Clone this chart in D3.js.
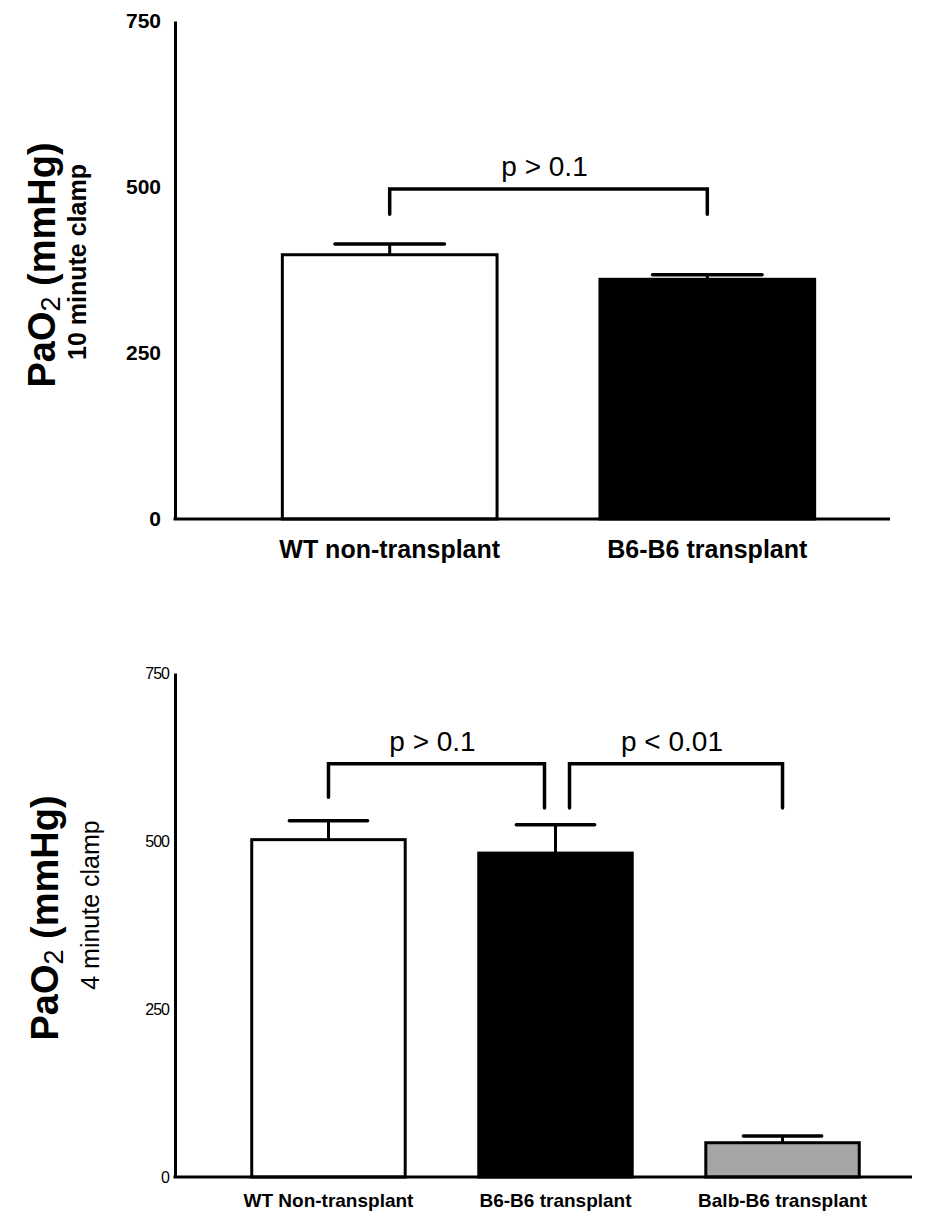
<!DOCTYPE html>
<html>
<head>
<meta charset="utf-8">
<script src="https://cdn.jsdelivr.net/npm/d3@7"></script>
<style>
  body { margin: 0; background: #fff; }
  svg text { font-family: "Liberation Sans", Arial, sans-serif; fill: #000; }
</style>
</head>
<body>
<svg id="chart" width="925" height="1219"></svg>
<script>
// top panel: 10 minute clamp
var topCats = ["WT non-transplant", "B6-B6 transplant"];
var topMeans = [398, 361];
var topSem = [16, 7];
var topFill = ["#ffffff", "#000000"];
var topBrackets = [{ a: 0, b: 1, y: 497, dropA: 459, dropB: 459, label: "p > 0.1" }];

// bottom panel: 4 minute clamp
var botCats = ["WT Non-transplant", "B6-B6 transplant", "Balb-B6 transplant"];
var botMeans = [502, 482, 51];
var botSem = [28, 42, 10];
var botFill = ["#ffffff", "#000000", "#a6a6a6"];
var botBrackets = [
  { a: 0, b: 1, y: 615, dropA: 565, dropB: 549, label: "p > 0.1" },
  { a: 1, b: 2, y: 615, dropA: 549, dropB: 549, label: "p < 0.01" }
];

var yTicks = [0, 250, 500, 750];

var svg = d3.select("#chart");

function panel(opts) {
  var g = svg.append("g");

  var x = d3.scaleBand()
    .domain(opts.cats)
    .range([opts.left, opts.bandRight])
    .paddingInner(0.324)
    .paddingOuter(0.338);

  var y = d3.scaleLinear().domain([0, 750]).range([opts.bottom, opts.top]);

  // bars
  g.selectAll("rect.bar")
    .data(opts.means)
    .enter().append("rect")
    .attr("class", "bar")
    .attr("x", function(d, i) { return x(opts.cats[i]); })
    .attr("y", function(d) { return y(d); })
    .attr("width", x.bandwidth())
    .attr("height", function(d) { return y(0) - y(d); })
    .attr("fill", function(d, i) { return opts.fill[i]; })
    .attr("stroke", "#000")
    .attr("stroke-width", 3);

  // error bars (upper only)
  var capW = x.bandwidth() * 0.255;
  opts.means.forEach(function(m, i) {
    var cx = x(opts.cats[i]) + x.bandwidth() / 2;
    var top = m + opts.sem[i];
    g.append("line")
      .attr("x1", cx).attr("x2", cx)
      .attr("y1", y(m)).attr("y2", y(top))
      .attr("stroke", "#000").attr("stroke-width", 3);
    g.append("line")
      .attr("x1", cx - capW).attr("x2", cx + capW)
      .attr("y1", y(top)).attr("y2", y(top))
      .attr("stroke", "#000").attr("stroke-width", 3.5)
      .attr("stroke-linecap", "round");
  });

  // significance brackets
  opts.brackets.forEach(function(br) {
    var xa = x(opts.cats[br.a]) + x.bandwidth() / 2;
    var xb = x(opts.cats[br.b]) + x.bandwidth() / 2;
    if (opts.brackets.length > 1) {
      // shared bar: nudge the legs apart
      if (br.a === 1) xa += 14;
      if (br.b === 1) xb -= 11;
    }
    g.append("path")
      .attr("d", "M" + xa + "," + y(br.dropA) + "V" + y(br.y) + "H" + xb + "V" + y(br.dropB))
      .attr("fill", "none")
      .attr("stroke", "#000")
      .attr("stroke-width", 3.5)
      .attr("stroke-linecap", "round")
      .attr("stroke-linejoin", "miter");
    g.append("text")
      .attr("x", (xa + xb) / 2 - 4)
      .attr("y", y(br.y) - 13)
      .attr("text-anchor", "middle")
      .style("font-size", "28px")
      .text(br.label);
  });

  // y axis
  var yAxis = g.append("g")
    .attr("transform", "translate(" + opts.left + ",0)")
    .call(d3.axisLeft(y).tickValues(yTicks).tickSize(0).tickSizeOuter(0).tickPadding(opts.tickPad));
  yAxis.select(".domain").attr("stroke", "#000").attr("stroke-width", 3);
  yAxis.selectAll("text")
    .attr("font-family", null)
    .style("font-size", opts.tickFont)
    .style("font-weight", opts.tickWeight)
    .style("letter-spacing", opts.tickSpacing);

  // x axis line
  g.append("line")
    .attr("x1", opts.left - 1.5).attr("x2", opts.axisRight)
    .attr("y1", y(0)).attr("y2", y(0))
    .attr("stroke", "#000").attr("stroke-width", 3);

  // category labels
  var xAxis = g.append("g")
    .attr("transform", "translate(0," + y(0) + ")")
    .call(d3.axisBottom(x).tickSize(0).tickPadding(opts.catPad));
  xAxis.select(".domain").remove();
  xAxis.selectAll("text")
    .attr("font-family", null)
    .style("font-size", opts.catFont)
    .style("font-weight", "bold");

  // y title
  var t = g.append("text")
    .attr("transform", "translate(" + opts.titleX + "," + opts.titleY + ") rotate(-90)")
    .attr("text-anchor", "middle")
    .style("font-size", "38px")
    .style("font-weight", "bold");
  t.append("tspan").text("PaO");
  t.append("tspan").style("font-size", "27px").style("font-weight", "normal").attr("dy", 5).text("2");
  t.append("tspan").attr("dy", -5).text(" (mmHg)");

  g.append("text")
    .attr("transform", "translate(" + opts.subX + "," + opts.subY + ") rotate(-90)")
    .attr("text-anchor", "middle")
    .style("font-size", opts.subFont)
    .style("font-weight", opts.subWeight)
    .text(opts.subtitle);
}

panel({
  cats: topCats, means: topMeans, sem: topSem, fill: topFill, brackets: topBrackets,
  left: 175, bandRight: 922, axisRight: 890, top: 21, bottom: 519,
  tickPad: 14, tickFont: "21px", tickWeight: "bold", tickSpacing: "0px",
  catPad: 21, catFont: "25px",
  titleX: 55, titleY: 265, subX: 86, subY: 262, subFont: "25px", subWeight: "bold",
  subtitle: "10 minute clamp"
});

panel({
  cats: botCats, means: botMeans, sem: botSem, fill: botFill, brackets: botBrackets,
  left: 175, bandRight: 936, axisRight: 912, top: 673, bottom: 1177,
  tickPad: 6, tickFont: "16px", tickWeight: "normal", tickSpacing: "-1px",
  catPad: 17, catFont: "19px",
  titleX: 58, titleY: 918, subX: 99, subY: 905, subFont: "25px", subWeight: "normal",
  subtitle: "4 minute clamp"
});
</script>
</body>
</html>
